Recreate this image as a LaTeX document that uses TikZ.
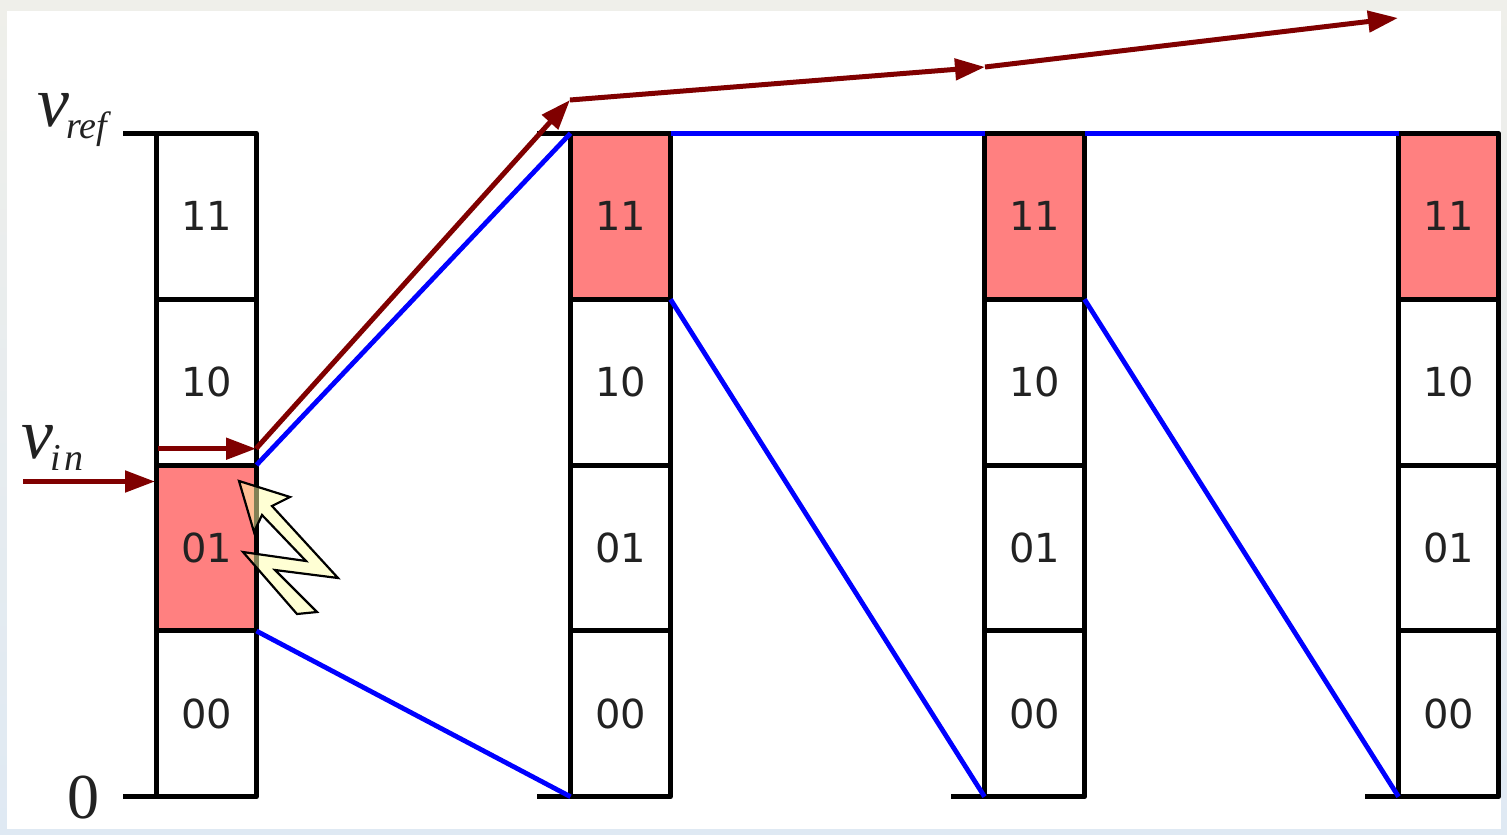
\documentclass[tikz,border=0pt]{standalone}
\usepackage{fontspec}
\setmainfont{DejaVu Sans}
\newfontfamily\lserif{Liberation Serif}
\usetikzlibrary{arrows.meta}
\definecolor{cellred}{HTML}{FF8080}
\definecolor{darkarrow}{HTML}{800000}
\definecolor{digitink}{HTML}{222222}
\definecolor{boltfill}{HTML}{FFFFAA}
\definecolor{bgtop}{HTML}{EFEFEA}
\definecolor{bgbot}{HTML}{DFE9F3}
\tikzset{
  cell/.style={draw=black,line width=2.5pt,line join=round,minimum width=50pt,minimum height=83pt,inner sep=0pt,outer sep=0pt,text=digitink,text depth=0pt,font=\fontsize{20}{24}\selectfont},
  tick/.style={draw=black,line width=2.5pt},
  blueline/.style={draw=blue,line width=2.4pt},
  redarrow/.style={draw=darkarrow,line width=2.5pt,-{Triangle[length=15pt,width=10.5pt]}},
  mathlabel/.style={inner sep=0pt,outer sep=0pt,text=digitink},
  bolt/.style={draw=black,line width=1.1pt,fill=boltfill,fill opacity=0.5,line join=miter}
}
\begin{document}
\begin{tikzpicture}[x=0.5pt,y=-0.5pt]
\useasboundingbox (0,0) rectangle (1507,834);
\shade[top color=bgtop,bottom color=bgbot] (0,0) rectangle (1507,834);
\fill[white] (7,11) rectangle (1501,829);

% cells and ticks: name / centre x / fill of top cell / fill of third cell
\foreach \n/\x/\hi/\lo in {a/206/white/cellred,b/620/cellred/white,c/1034/cellred/white,d/1448/cellred/white}{
  \coordinate (top\n) at (\x-83,133.3);
  \coordinate (bot\n) at (\x-83,796.7);
  \node[cell,fill=\hi] (\n11) at (\x+0.5,216.3) {11};
  \node[cell,fill=white] (\n10) at (\x+0.5,382) {10};
  \node[cell,fill=\lo] (\n01) at (\x+0.5,548) {01};
  \node[cell,fill=white] (\n00) at (\x+0.5,713.7) {00};
  \draw[tick] (top\n) -- (\n11.north west);
  \draw[tick] (bot\n) -- (\n00.south west);
}

% blue connectors
\draw[blueline] (a01.north east) -- (b11.north west);
\draw[blueline] (a01.south east) -- (b00.south west);
\draw[blueline] (b11.north east) -- (c11.north west);
\draw[blueline] (b11.south east) -- (c00.south west);
\draw[blueline] (c11.north east) -- (d11.north west);
\draw[blueline] (c11.south east) -- (d00.south west);

% red arrows
\coordinate (vinstart) at (23,481.5);
\coordinate (vinend) at (155,481.5);
\coordinate (sa) at (158,448.7);
\coordinate (sb) at (256,448.7);
\coordinate (sc) at (570,100);
\coordinate (sd) at (985,67);
\coordinate (se) at (1398,18);
\draw[redarrow] (vinstart) -- (vinend);
\draw[redarrow] (sa) -- (sb);
\draw[redarrow] (sb) -- (sc);
\draw[redarrow] (sc) -- (sd);
\draw[redarrow] (sd) -- (se);

% labels
\node[mathlabel,anchor=base west] (vref) at (37,127) {\lserif\itshape\fontsize{36}{40}\selectfont v};
\node[mathlabel,anchor=base west] (refsub) at (66,139) {\lserif\itshape\fontsize{19}{24}\selectfont ref};
\node[mathlabel,anchor=base west] (vin) at (21,458) {\lserif\itshape\fontsize{36}{40}\selectfont v};
\node[mathlabel,anchor=base west] (insub) at (50,470) {\lserif\itshape\fontsize{19}{24}\selectfont i\kern2pt n};
\node[mathlabel,anchor=base west] (zero) at (67,818) {\lserif\fontsize{32}{36}\selectfont 0};

% bolt
\draw[bolt] (239,481) -- (290,497) -- (272,506) -- (338,578) -- (275,570) -- (317,612)
  -- (297,614) -- (243,552) -- (306,561) -- (262,515) -- (254,532) -- cycle;
\end{tikzpicture}
\end{document}
